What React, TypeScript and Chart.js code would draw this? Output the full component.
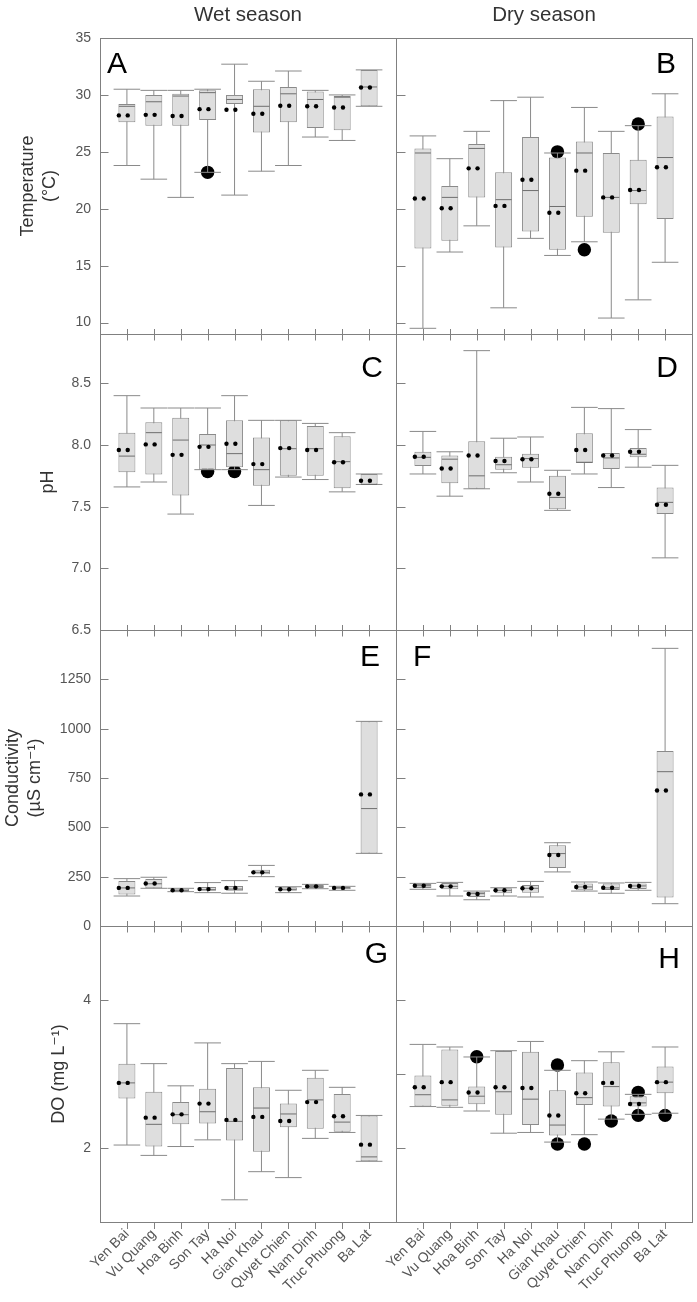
import React, { useEffect, useRef } from 'react';
import Chart from 'chart.js/auto';

// ---------- data ----------
const CATEGORIES = ['Yen Bai', 'Vu Quang', 'Hoa Binh', 'Son Tay', 'Ha Noi', 'Gian Khau', 'Quyet Chien', 'Nam Dinh', 'Truc Phuong', 'Ba Lat'];

const TEMP_TICKS = [10, 15, 20, 25, 30, 35];
const PH_TICKS = [6.5, 7.0, 7.5, 8.0, 8.5];
const COND_TICKS = [0, 250, 500, 750, 1000, 1250];
const DO_TICKS_WET = [2, 4];
const DO_TICKS_DRY = [2, 3, 4];

// A: temperature, wet season
const A_LOW = [23.8, 22.6, 21.0, 23.2, 21.2, 23.3, 23.8, 26.3, 26.0, 29.0];
const A_Q1 = [27.6, 27.3, 27.3, 27.8, 29.2, 26.7, 27.6, 27.1, 26.9, 29.0];
const A_MED = [29.0, 29.4, 29.9, 30.2, 29.6, 29.0, 30.1, 29.6, 29.8, 30.7];
const A_Q3 = [29.2, 30.0, 30.1, 30.4, 30.0, 30.5, 30.7, 30.3, 29.9, 32.2];
const A_HIGH = [30.5, 30.4, 30.4, 30.5, 32.7, 31.2, 32.1, 30.4, 30.0, 32.2];
const A_MEAN = [28.2, 28.25, 28.15, 28.75, 28.7, 28.35, 29.05, 29.0, 28.9, 30.65];
const A_OUT: [number, number][] = [[3, 23.2]];

// B: temperature, dry season
const B_LOW = [9.5, 16.2, 18.5, 11.3, 17.4, 15.9, 17.1, 10.4, 12.0, 15.3];
const B_Q1 = [16.5, 17.2, 21.0, 16.6, 18.0, 16.4, 19.3, 17.9, 20.4, 19.1];
const B_MED = [24.9, 21.0, 25.3, 20.8, 21.6, 20.2, 24.9, 21.0, 21.6, 24.5];
const B_Q3 = [25.3, 22.0, 25.7, 23.2, 26.3, 24.5, 25.9, 24.9, 24.3, 28.1];
const B_HIGH = [26.4, 24.4, 26.8, 29.5, 29.8, 24.9, 28.9, 26.8, 27.3, 30.1];
const B_MEAN = [20.9, 20.05, 23.55, 20.25, 22.55, 19.65, 23.35, 21.0, 21.65, 23.65];
const B_OUT: [number, number][] = [[5, 25.0], [6, 16.4], [8, 27.45]];

// C: pH, wet season
const C_LOW = [7.66, 7.70, 7.44, 7.80, 7.80, 7.51, 7.74, 7.72, 7.62, 7.68];
const C_Q1 = [7.78, 7.76, 7.59, 7.80, 7.82, 7.67, 7.75, 7.75, 7.65, 7.68];
const C_MED = [7.91, 8.10, 8.04, 8.00, 7.93, 7.80, 7.97, 7.97, 7.865, 7.68];
const C_Q3 = [8.10, 8.185, 8.22, 8.09, 8.20, 8.06, 8.20, 8.155, 8.07, 7.765];
const C_HIGH = [8.40, 8.30, 8.30, 8.30, 8.40, 8.20, 8.20, 8.175, 8.10, 7.765];
const C_MEAN = [7.96, 8.005, 7.92, 7.985, 8.01, 7.845, 7.975, 7.96, 7.86, 7.71];
const C_OUT: [number, number][] = [[3, 7.785], [4, 7.785]];

// D: pH, dry season
const D_LOW = [7.765, 7.585, 7.645, 7.775, 7.70, 7.47, 7.765, 7.655, 7.82, 7.085];
const D_Q1 = [7.83, 7.69, 7.645, 7.80, 7.815, 7.48, 7.855, 7.805, 7.90, 7.44];
const D_MED = [7.90, 7.885, 7.75, 7.84, 7.89, 7.575, 7.86, 7.895, 7.925, 7.535];
const D_Q3 = [7.945, 7.915, 8.03, 7.905, 7.93, 7.75, 8.095, 7.935, 7.975, 7.655];
const D_HIGH = [8.11, 7.945, 8.765, 8.055, 8.065, 7.795, 8.305, 8.295, 8.125, 7.835];
const D_MEAN = [7.905, 7.81, 7.915, 7.87, 7.885, 7.605, 7.96, 7.915, 7.945, 7.515];
const D_OUT: [number, number][] = [];

// E: conductivity, wet season
const E_LOW = [152, 191, 174, 169, 166, 250, 169, 189, 181, 368];
const E_Q1 = [160, 191, 174, 179, 179, 262, 179, 193, 186, 368];
const E_MED = [193, 214, 179, 184, 187, 272, 186, 199, 193, 595];
const E_Q3 = [228, 238, 189, 198, 203, 285, 196, 208, 198, 1037];
const E_HIGH = [240, 247, 191, 220, 230, 307, 199, 211, 201, 1037];
const E_MEAN = [193, 215, 181, 187, 193, 272, 186, 201, 193, 667];
const E_OUT: [number, number][] = [];

// F: conductivity, dry season
const F_LOW = [186, 152, 133, 152, 147, 274, 177, 166, 181, 113];
const F_Q1 = [193, 186, 147, 166, 169, 294, 181, 182, 187, 144];
const F_MED = [204, 201, 164, 181, 191, 367, 198, 193, 203, 782];
const F_Q3 = [213, 218, 174, 191, 208, 409, 215, 215, 216, 887];
const F_HIGH = [216, 221, 177, 194, 226, 422, 223, 218, 221, 1407];
const F_MEAN = [204, 201, 162, 181, 191, 360, 198, 194, 203, 687];
const F_OUT: [number, number][] = [];

// G: DO, wet season
const G_LOW = [2.04, 1.90, 2.02, 2.11, 1.30, 1.68, 1.60, 2.13, 2.21, 1.82];
const G_Q1 = [2.67, 2.02, 2.32, 2.33, 2.10, 1.95, 2.28, 2.26, 2.22, 1.82];
const G_MED = [2.88, 2.32, 2.45, 2.49, 2.36, 2.54, 2.46, 2.65, 2.35, 1.88];
const G_Q3 = [3.14, 2.76, 2.62, 2.80, 3.08, 2.82, 2.60, 2.95, 2.73, 2.44];
const G_HIGH = [3.68, 3.14, 2.84, 3.42, 3.14, 3.17, 2.78, 3.05, 2.82, 2.44];
const G_MEAN = [2.88, 2.41, 2.455, 2.60, 2.38, 2.42, 2.365, 2.62, 2.43, 2.045];
const G_OUT: [number, number][] = [];

// H: DO, dry season
const H_LOW = [2.56, 2.55, 2.50, 2.20, 2.21, 2.08, 2.18, 2.39, 2.455, 2.47];
const H_Q1 = [2.56, 2.57, 2.59, 2.45, 2.31, 2.17, 2.58, 2.56, 2.56, 2.74];
const H_MED = [2.72, 2.65, 2.70, 2.76, 2.66, 2.31, 2.68, 2.83, 2.61, 2.89];
const H_Q3 = [2.98, 3.33, 2.83, 3.31, 3.30, 2.78, 3.02, 3.16, 2.70, 3.10];
const H_HIGH = [3.40, 3.365, 3.23, 3.315, 3.44, 3.05, 3.18, 3.30, 2.725, 3.365];
const H_MEAN = [2.82, 2.89, 2.75, 2.82, 2.81, 2.44, 2.74, 2.88, 2.595, 2.89];
const H_OUT: [number, number][] = [[2, 3.234], [5, 3.122], [5, 2.054], [6, 2.054], [7, 2.365], [8, 2.752], [8, 2.441], [9, 2.441]];

// ---------- styling / layout ----------
const FONT = '"Liberation Sans", Arial, "DejaVu Sans", sans-serif';
const FRAME = '#808080';
const BOX_FILL = '#dedede';
const BOX_LINE = '#8a8a8a';
const WHISKER = '#8a8a8a';
const MEDIAN = '#6e6e6e';
const TICK_TEXT = '#555555';
const TITLE_TEXT = '#333333';
const MEAN_DOT_OFFSETS = [-0.3, 0.03];

const PLOT_W = 296;
const PLOT_H = 296;
const TOP_PAD = 38;
const ROW_TOP = [38, 334, 630, 926];
const COL = [
  { canvasLeft: 0, axisW: 100 },
  { canvasLeft: 340, axisW: 56 },
];
const RIGHT_PAD = 6;

type Panel = {
  key: string; col: number; row: number;
  low: number[]; q1: number[]; med: number[]; q3: number[]; high: number[]; mean: number[]; out: [number, number][];
  yMin: number; yMax: number; yTicks: number[]; decimals: number;
  title?: string[]; titlePad?: number;
  letterAlign: 'left' | 'right'; letterDx: number; letterDy: number;
  season?: string;
};

const PANELS: Panel[] = [
  { key: 'A', col: 0, row: 0, low: A_LOW, q1: A_Q1, med: A_MED, q3: A_Q3, high: A_HIGH, mean: A_MEAN, out: A_OUT, yMin: 9, yMax: 35, yTicks: TEMP_TICKS, decimals: 0, title: ['Temperature', '(°C)'], titlePad: 17.7, letterAlign: 'left', letterDx: 7, letterDy: 35, season: 'Wet season' },
  { key: 'B', col: 1, row: 0, low: B_LOW, q1: B_Q1, med: B_MED, q3: B_Q3, high: B_HIGH, mean: B_MEAN, out: B_OUT, yMin: 9, yMax: 35, yTicks: TEMP_TICKS, decimals: 0, letterAlign: 'right', letterDx: 16, letterDy: 35, season: 'Dry season' },
  { key: 'C', col: 0, row: 1, low: C_LOW, q1: C_Q1, med: C_MED, q3: C_Q3, high: C_HIGH, mean: C_MEAN, out: C_OUT, yMin: 6.5, yMax: 8.9, yTicks: PH_TICKS, decimals: 1, title: ['pH'], titlePad: 37.7, letterAlign: 'right', letterDx: 13, letterDy: 43 },
  { key: 'D', col: 1, row: 1, low: D_LOW, q1: D_Q1, med: D_MED, q3: D_Q3, high: D_HIGH, mean: D_MEAN, out: D_OUT, yMin: 6.5, yMax: 8.9, yTicks: PH_TICKS, decimals: 1, letterAlign: 'right', letterDx: 14, letterDy: 43 },
  { key: 'E', col: 0, row: 2, low: E_LOW, q1: E_Q1, med: E_MED, q3: E_Q3, high: E_HIGH, mean: E_MEAN, out: E_OUT, yMin: 0, yMax: 1500, yTicks: COND_TICKS, decimals: 0, title: ['Conductivity', '(µS cm⁻¹)'], titlePad: 2.2, letterAlign: 'right', letterDx: 16, letterDy: 36 },
  { key: 'F', col: 1, row: 2, low: F_LOW, q1: F_Q1, med: F_MED, q3: F_Q3, high: F_HIGH, mean: F_MEAN, out: F_OUT, yMin: 0, yMax: 1500, yTicks: COND_TICKS, decimals: 0, letterAlign: 'left', letterDx: 17, letterDy: 36 },
  { key: 'G', col: 0, row: 3, low: G_LOW, q1: G_Q1, med: G_MED, q3: G_Q3, high: G_HIGH, mean: G_MEAN, out: G_OUT, yMin: 1, yMax: 5, yTicks: DO_TICKS_WET, decimals: 0, title: ['DO (mg L⁻¹)'], titlePad: 48, letterAlign: 'right', letterDx: 8, letterDy: 37 },
  { key: 'H', col: 1, row: 3, low: H_LOW, q1: H_Q1, med: H_MED, q3: H_Q3, high: H_HIGH, mean: H_MEAN, out: H_OUT, yMin: 1, yMax: 5, yTicks: DO_TICKS_DRY, decimals: 0, letterAlign: 'right', letterDx: 12, letterDy: 42 },
];

function geom(p: Panel) {
  const c = COL[p.col];
  const bottomPad = p.row === 3 ? 1302 - (ROW_TOP[3] + PLOT_H) : 12;
  return {
    left: c.canvasLeft,
    top: ROW_TOP[p.row] - TOP_PAD,
    w: c.axisW + PLOT_W + RIGHT_PAD,
    h: TOP_PAD + PLOT_H + bottomPad,
    axisW: c.axisW,
    bottomPad,
  };
}

function decorPlugin(p: Panel) {
  return {
    id: 'decor' + p.key,
    afterDraw(chart: any) {
      const { ctx, chartArea: a, scales } = chart;
      const x = scales.x, y = scales.y;
      const L = Math.round(a.left) + 0.5, R = Math.round(a.right) + 0.5;
      const T = Math.round(a.top) + 0.5, B = Math.round(a.bottom) + 0.5;
      ctx.save();
      ctx.strokeStyle = FRAME;
      ctx.lineWidth = 1;
      ctx.strokeRect(L, T, R - L, B - T);
      ctx.beginPath();
      const yLen = p.col === 0 ? 8 : 9;
      for (const t of y.ticks) {
        const py = Math.round(y.getPixelForValue(t.value)) + 0.5;
        ctx.moveTo(L, py); ctx.lineTo(L + yLen, py);
      }
      for (let i = 0; i < CATEGORIES.length; i++) {
        const px = Math.round(x.getPixelForValue(i)) + 0.5;
        if (p.row > 0) { ctx.moveTo(px, T); ctx.lineTo(px, T + 6); }
        if (p.row < 3) { ctx.moveTo(px, B); ctx.lineTo(px, B - 5.5); }
        else { ctx.moveTo(px, B); ctx.lineTo(px, B + 6.5); }
      }
      ctx.stroke();
      if (p.season) {
        ctx.fillStyle = TITLE_TEXT;
        ctx.font = `20.5px ${FONT}`;
        ctx.textAlign = 'center';
        ctx.textBaseline = 'alphabetic';
        ctx.fillText(p.season, (a.left + a.right) / 2, 20.5);
      }
      ctx.fillStyle = '#000';
      ctx.font = `30px ${FONT}`;
      ctx.textBaseline = 'alphabetic';
      ctx.textAlign = p.letterAlign;
      const lx = p.letterAlign === 'left' ? a.left + p.letterDx : a.right - p.letterDx;
      ctx.fillText(p.key, lx, a.top + p.letterDy);
      ctx.restore();
    },
  };
}

function buildConfig(p: Panel): any {
  const g = geom(p);
  const whiskers = p.low.map((lo, i) => ({ x: i, y: [lo, p.high[i]] }));
  const caps = p.low.flatMap((lo, i) => [{ x: i, y: lo }, { x: i, y: p.high[i] }]);
  const boxes = p.q1.map((a, i) => ({ x: i, y: [a, p.q3[i]] }));
  const medians = p.med.map((m, i) => ({ x: i, y: m }));
  const means = p.mean.flatMap((m, i) => MEAN_DOT_OFFSETS.map((o) => ({ x: i + o, y: m })));
  const outliers = p.out.map(([i, v]) => ({ x: i, y: v }));
  return {
    type: 'bar',
    data: {
      datasets: [
        { type: 'scatter', label: 'Outliers', data: outliers, pointRadius: 6.7, pointBackgroundColor: '#000', pointBorderWidth: 0, order: 6 },
        { type: 'bar', label: 'Whiskers', data: whiskers, barThickness: 1, backgroundColor: WHISKER, borderWidth: 0, grouped: false, inflateAmount: 0, order: 5 },
        { type: 'scatter', label: 'Caps', data: caps, pointStyle: 'line', pointRadius: 13.3, pointBorderColor: WHISKER, pointBorderWidth: 1, order: 4 },
        { type: 'bar', label: 'Boxes', data: boxes, barThickness: 17, backgroundColor: BOX_FILL, borderColor: BOX_LINE, borderWidth: 1, borderSkipped: false, grouped: false, inflateAmount: 0, order: 3 },
        { type: 'scatter', label: 'Median', data: medians, pointStyle: 'line', pointRadius: 8, pointBorderColor: MEDIAN, pointBorderWidth: 1, order: 2 },
        { type: 'scatter', label: 'Mean', data: means, pointRadius: 2.2, pointBackgroundColor: '#000', pointBorderWidth: 0, order: 1 },
      ],
    },
    options: {
      responsive: false,
      animation: false,
      events: [],
      layout: { autoPadding: false, padding: { top: TOP_PAD, left: 0, right: RIGHT_PAD, bottom: 0 } },
      plugins: { legend: { display: false }, tooltip: { enabled: false }, title: { display: false } },
      scales: {
        x: {
          type: 'linear', min: -1, max: CATEGORIES.length, offset: false,
          grid: { display: false, drawTicks: false }, border: { display: false },
          ticks: {
            display: p.row === 3, autoSkip: false, minRotation: 45, maxRotation: 45, padding: 4,
            color: TICK_TEXT, font: { family: FONT, size: 14 },
            callback: (v: number) => (CATEGORIES[v] !== undefined ? CATEGORIES[v] : ''),
          },
          afterBuildTicks: (s: any) => { s.ticks = CATEGORIES.map((_, i) => ({ value: i })); },
          afterFit: (s: any) => { s.height = g.bottomPad; s.paddingLeft = 0; s.paddingRight = 0; },
        },
        y: {
          type: 'linear', min: p.yMin, max: p.yMax,
          grid: { display: false, drawTicks: false }, border: { display: false },
          ticks: {
            display: p.col === 0, autoSkip: false, padding: 9,
            color: TICK_TEXT, font: { family: FONT, size: 14 },
            callback: (v: number) => (p.decimals ? v.toFixed(p.decimals) : String(v)),
          },
          afterBuildTicks: (s: any) => { s.ticks = p.yTicks.map((v) => ({ value: v })); },
          title: p.title
            ? { display: true, text: p.title, color: TITLE_TEXT, font: { family: FONT, size: 18 }, padding: { top: p.titlePad, bottom: 0 } }
            : { display: false },
          afterFit: (s: any) => { s.width = g.axisW; s.paddingTop = 0; s.paddingBottom = 0; },
        },
      },
    },
    plugins: [decorPlugin(p)],
  };
}

export default function App() {
  const refs = useRef<(HTMLCanvasElement | null)[]>([]);
  useEffect(() => {
    const charts = PANELS.map((p, idx) => new Chart(refs.current[idx] as HTMLCanvasElement, buildConfig(p)));
    return () => { charts.forEach((c) => c.destroy()); };
  }, []);
  return (
    <div style={{ position: 'absolute', left: 0, top: 0, width: 697, height: 1302, background: '#fff', overflow: 'hidden' }}>
      {PANELS.map((p, idx) => {
        const g = geom(p);
        return (
          <canvas
            key={p.key}
            ref={(el) => { refs.current[idx] = el; }}
            width={g.w}
            height={g.h}
            style={{ position: 'absolute', left: g.left, top: g.top, width: g.w, height: g.h }}
          />
        );
      })}
    </div>
  );
}
